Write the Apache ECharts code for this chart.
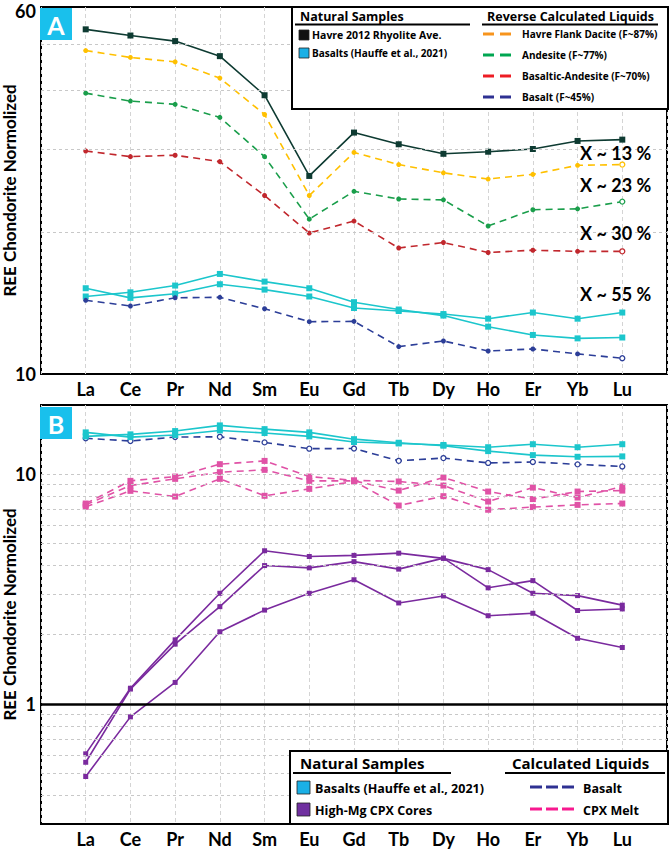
<!DOCTYPE html>
<html>
<head>
<meta charset="utf-8">
<script src="https://cdn.jsdelivr.net/npm/echarts@6/dist/echarts.min.js"></script>
<style>
  html, body { margin: 0; padding: 0; background: #fff; }
  #chart { width: 671px; height: 852px; }
</style>
</head>
<body>
<div id="chart"></div>
<script>
// REE patterns, chondrite normalized
const cats = ['La', 'Ce', 'Pr', 'Nd', 'Sm', 'Eu', 'Gd', 'Tb', 'Dy', 'Ho', 'Er', 'Yb', 'Lu'];

// panel A
const rhyolite = [53.8, 52.2, 50.8, 47.2, 39.0, 26.3, 32.5, 30.7, 29.3, 29.6, 30.0, 31.2, 31.4];
const dacite = [48.5, 46.9, 45.9, 42.4, 35.5, 23.9, 29.5, 27.8, 26.7, 25.9, 26.5, 27.7, 27.8];
const andesite = [39.4, 37.9, 37.3, 35.0, 28.9, 21.3, 24.4, 23.5, 23.4, 20.6, 22.3, 22.4, 23.2];
const basAndesite = [29.7, 28.9, 29.1, 28.2, 23.9, 19.9, 21.1, 18.5, 19.0, 18.1, 18.3, 18.2, 18.2];
const basaltLiq = [14.33, 13.94, 14.51, 14.54, 13.75, 12.91, 12.93, 11.43, 11.75, 11.19, 11.3, 11.03, 10.8];
const basalt1 = [14.6, 14.9, 15.4, 16.3, 15.7, 15.2, 14.2, 13.7, 13.3, 12.6, 12.1, 11.9, 11.95];
const basalt2 = [15.2, 14.5, 14.8, 15.5, 15.1, 14.6, 13.8, 13.6, 13.4, 13.1, 13.5, 13.1, 13.5];

// panel B
const cpx1 = [0.606, 1.17, 1.90, 3.03, 4.64, 4.38, 4.43, 4.53, 4.30, 3.84, 3.03, 2.96, 2.69];
const cpx2 = [0.557, 1.16, 1.82, 2.65, 4.00, 3.91, 4.16, 3.86, 4.31, 3.20, 3.44, 2.55, 2.59];
const cpx3 = [0.483, 0.878, 1.24, 2.06, 2.56, 3.03, 3.47, 2.75, 2.95, 2.42, 2.48, 1.93, 1.76];
const melt1 = [7.45, 9.35, 9.76, 11.05, 11.42, 9.76, 9.40, 9.29, 8.92, 7.60, 8.74, 7.91, 8.83];
const melt2 = [7.35, 8.92, 9.54, 10.20, 10.44, 9.35, 9.35, 8.48, 9.67, 8.40, 7.79, 8.40, 8.48];
const melt3 = [7.21, 8.46, 7.99, 9.54, 8.05, 8.63, 9.30, 7.30, 8.02, 7.00, 7.19, 7.35, 7.45];

// axis ticks / gridlines
const yLabelsA = [10, 60];
const yLabelsB = [1, 10];
const gridLinesA = [20, 30, 40, 50];
const gridLinesB = [0.4, 0.5, 0.6, 0.7, 0.8, 0.9, 2, 3, 4, 5, 6, 7, 8, 9, 10];

const FONT = 'Lato';
const LFONT = 'Open Sans';
const DASH = [7, 5];

let myChart = echarts.init(document.getElementById('chart'), null, { renderer: 'svg' });

function xy(arr) {
  return arr.map((v, i) => [i, v]);
}

function solid(arr, color, idx, size) {
  return {
    type: 'line', xAxisIndex: idx, yAxisIndex: idx, data: xy(arr),
    symbol: 'rect', symbolSize: size || 6,
    lineStyle: { color: color, width: 1.6 },
    itemStyle: { color: color },
    z: 3
  };
}

// dashed liquid line, last point hollow
function dashed(arr, color, idx, symbol, hollowAll) {
  let data = arr.map((v, i) => {
    if (hollowAll || i === arr.length - 1) {
      return { value: [i, v], itemStyle: { color: '#fff', borderColor: color, borderWidth: 1.3 } };
    }
    return [i, v];
  });
  return {
    type: 'line', xAxisIndex: idx, yAxisIndex: idx, data: data,
    symbol: symbol || 'circle', symbolSize: 5,
    lineStyle: { color: color, width: 1.6, type: DASH },
    itemStyle: { color: color },
    z: 3
  };
}

function gridSeries(values, idx) {
  return {
    type: 'line', xAxisIndex: idx, yAxisIndex: idx, data: [], silent: true, z: 1,
    markLine: {
      silent: true, symbol: 'none', animation: false,
      label: { show: false },
      lineStyle: { color: '#c8c8c8', type: [3, 3], width: 1 },
      data: values.map(v => ({ yAxis: v }))
    }
  };
}

function xAxisOf(idx) {
  return {
    gridIndex: idx, type: 'value', min: -1, max: 13, interval: 1,
    axisLine: { show: false },
    axisTick: { show: false },
    axisLabel: {
      formatter: v => cats[v] || '',
      color: '#000', fontFamily: FONT, fontWeight: 'bold', fontSize: 18, margin: 6
    },
    splitLine: { show: true, lineStyle: { color: '#d4d4d4', type: [4, 3], width: 1 } }
  };
}

function yAxisOf(idx, min, max, labels, gap) {
  const lab = { color: '#000', fontFamily: FONT, fontWeight: 'bold', fontSize: 18 };
  return {
    gridIndex: idx, type: 'log', logBase: 10, min: min, max: max,
    name: 'REE Chondorite Normolized', nameLocation: 'middle', nameGap: gap,
    nameMoveOverlap: false,
    nameTextStyle: { color: '#000', fontFamily: FONT, fontWeight: 'bold', fontSize: 17, lineHeight: 17 },
    axisLine: { show: false },
    axisTick: { show: false },
    splitLine: { show: false },
    axisLabel: {
      formatter: v => {
        if (!labels.some(l => Math.abs(l - v) < 1e-6)) return '';
        let s = String(+v.toFixed(3));
        // top label sits a little below the frame edge
        return Math.abs(v - max) < 1e-6 ? '{t|' + s + '}' : s;
      },
      rich: { t: Object.assign({ padding: [8, 0, 0, 0] }, lab) },
      margin: 5,
      ...lab
    }
  };
}

function txt(x, y, text, size, font) {
  return {
    type: 'text', x: x, y: y, z: 101,
    style: {
      text: text, fill: '#000', font: 'bold ' + size + 'px ' + (font || LFONT),
      verticalAlign: 'middle'
    }
  };
}

function line(x1, y1, x2, y2, color, w) {
  return {
    type: 'line', z: 101, shape: { x1: x1, y1: y1, x2: x2, y2: y2 },
    style: { stroke: color, lineWidth: w }
  };
}

function square(x, y, s, color) {
  return {
    type: 'rect', z: 101, shape: { x: x, y: y, width: s, height: s },
    style: { fill: color, stroke: '#222', lineWidth: 0.8 }
  };
}

function dashes(x, y, color, n, len, gap, w) {
  let out = [];
  for (let k = 0; k < n; k++) {
    out.push(line(x + k * (len + gap), y, x + k * (len + gap) + len, y, color, w));
  }
  return out;
}

function badge(x, y, letter) {
  return [
    { type: 'rect', z: 101, shape: { x: x, y: y, width: 32, height: 32 }, style: { fill: '#19C0EC' } },
    {
      type: 'text', z: 102, x: x + 16, y: y + 17,
      style: { text: letter, fill: '#fff', font: 'bold 25px ' + FONT, align: 'center', verticalAlign: 'middle' }
    }
  ];
}

const C = {
  rhy: '#0E3B32', dac: '#FFC000', and: '#1A9E4B', bas: '#C1272D', blu: '#2C3E98',
  cyan: '#1CC6CC', purple: '#7A2A9E', pink: '#E052A6'
};

let graphics = [];
// legend A
graphics.push({
  type: 'rect', z: 100, shape: { x: 292, y: 7, width: 376, height: 102 },
  style: { fill: '#fff', stroke: '#000', lineWidth: 2 }
});
graphics.push(txt(300, 16, 'Natural Samples', 12.5));
graphics.push(line(295, 24.5, 470, 24.5, '#000', 2));
graphics.push(txt(487, 16, 'Reverse Calculated Liquids', 12.5));
graphics.push(line(482, 24.5, 658, 24.5, '#000', 2));
graphics.push(square(299, 30, 10, '#111'));
graphics.push(txt(312, 35, 'Havre 2012 Rhyolite Ave.', 10.5));
graphics.push(square(299, 48, 10, '#1AB0E6'));
graphics.push(txt(312, 53, 'Basalts (Hauffe et al., 2021)', 10));
[
  ['#F7941D', 34, 'Havre Flank Dacite (F~87%)'],
  ['#00A651', 55, 'Andesite (F~77%)'],
  ['#ED1C24', 76, 'Basaltic-Andesite (F~70%)'],
  ['#2E3192', 97, 'Basalt (F~45%)']
].forEach(r => {
  graphics = graphics.concat(dashes(483, r[1], r[0], 2, 11, 6, 3));
  graphics.push(txt(522, r[1], r[2], 10));
});
// percentage notes
[['X ~ 13 %', 153], ['X ~ 23 %', 185], ['X ~ 30 %', 233], ['X ~ 55 %', 294]].forEach(r => {
  graphics.push(txt(580, r[1], r[0], 18, FONT));
});
graphics = graphics.concat(badge(40, 8, 'A'));

// legend B
graphics.push({
  type: 'rect', z: 100, shape: { x: 290, y: 751, width: 378, height: 73 },
  style: { fill: '#fff', stroke: '#000', lineWidth: 2 }
});
graphics.push(txt(300, 763, 'Natural Samples', 15));
graphics.push(line(293, 773, 451, 773, '#000', 2));
graphics.push(txt(512, 763, 'Calculated Liquids', 15));
graphics.push(line(505, 773, 665, 773, '#000', 2));
graphics.push(square(297, 781, 13, '#1AB0E6'));
graphics.push(txt(315, 788, 'Basalts (Hauffe et al., 2021)', 12.5));
graphics.push(square(297, 803, 13, '#7030A0'));
graphics.push(txt(315, 810, 'High-Mg CPX Cores', 12.5));
graphics = graphics.concat(dashes(530, 787, '#2E3192', 3, 12, 4, 3));
graphics.push(txt(583, 788, 'Basalt', 12.5));
graphics = graphics.concat(dashes(530, 809, '#F7198F', 3, 12, 4, 3));
graphics.push(txt(583, 810, 'CPX Melt', 12.5));
graphics = graphics.concat(badge(40, 407, 'B'));

let option = {
  backgroundColor: '#fff',
  animation: false,
  grid: [
    {
      left: 41, top: 7, width: 626, height: 367, show: true, borderColor: '#000', borderWidth: 2,
      backgroundColor: 'transparent', containLabel: false, outerBoundsMode: 'none'
    },
    {
      left: 41, top: 405, width: 626, height: 419, show: true, borderColor: '#000', borderWidth: 2,
      backgroundColor: 'transparent', containLabel: false, outerBoundsMode: 'none'
    }
  ],
  xAxis: [xAxisOf(0), xAxisOf(1)],
  yAxis: [yAxisOf(0, 10, 60, yLabelsA, 23), yAxisOf(1, 0.3, 20, yLabelsB, 23)],
  graphic: graphics,
  series: [
    gridSeries(gridLinesA, 0),
    solid(basalt1, C.cyan, 0, 6),
    solid(basalt2, C.cyan, 0, 6),
    dashed(basaltLiq, C.blu, 0),
    dashed(basAndesite, C.bas, 0),
    dashed(andesite, C.and, 0),
    dashed(dacite, C.dac, 0),
    solid(rhyolite, C.rhy, 0, 6),

    gridSeries(gridLinesB, 1),
    {
      type: 'line', xAxisIndex: 1, yAxisIndex: 1, data: [], silent: true, z: 4,
      markLine: {
        silent: true, symbol: 'none', animation: false, label: { show: false },
        lineStyle: { color: '#000', type: 'solid', width: 2.5 },
        data: [{ yAxis: 1 }]
      }
    },
    dashed(melt1, C.pink, 1, 'rect'),
    dashed(melt2, C.pink, 1, 'rect'),
    dashed(melt3, C.pink, 1, 'rect'),
    solid(cpx1, C.purple, 1, 5),
    solid(cpx2, C.purple, 1, 5),
    solid(cpx3, C.purple, 1, 5),
    dashed(basaltLiq, C.blu, 1, 'circle', true),
    solid(basalt1, C.cyan, 1, 6),
    solid(basalt2, C.cyan, 1, 6)
  ]
};

// pink melt markers are filled squares
option.series.forEach(s => {
  if (s.lineStyle && s.lineStyle.color === C.pink) {
    s.data = s.data.map(d => Array.isArray(d) ? d : d.value);
    s.symbolSize = 6;
  }
});

myChart.setOption(option);
window.addEventListener('resize', function () {
  myChart.resize();
});
</script>
</body>
</html>
